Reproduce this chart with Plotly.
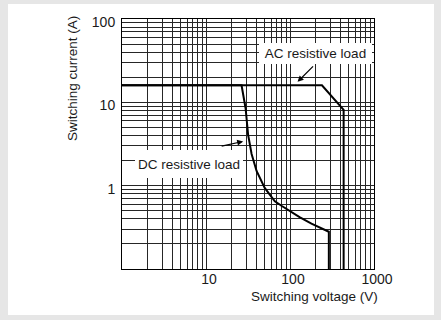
import numpy as np
import plotly.graph_objects as go

# Data
ac_voltage = [1, 240, 435, 435]
ac_current = [16, 16, 8.1, 0.1]

dc_voltage = [1, 26.5, 29.6, 31.7, 34.9, 40, 50, 66, 80, 95, 130, 180, 230, 290, 290]
dc_current = [16, 16, 8.5, 4.1, 2.4, 1.5, 0.94, 0.65, 0.57, 0.51, 0.42, 0.35, 0.31, 0.28, 0.1]

x_tickvals = [1, 10, 100, 1000]
x_ticktext = ["", "10", "100", "1000"]
y_tickvals = [0.1, 1, 10, 100]
y_ticktext = ["", "1", "10", "100"]

FONT = "Liberation Sans"
INK = "#1a1a1a"
GRID = "#262626"

W, H = 441, 320
L, R, T, B = 122, 67, 19, 51
PW, PH = W - L - R, H - T - B

def px(x):
    return (x - L) / PW

def py(y):
    return (H - B - y) / PH

minor_x = [m * 10 ** d for d in range(0, 3) for m in range(2, 10)]
minor_y = [m * 10 ** d for d in range(-1, 2) for m in range(2, 10)]

fig = go.Figure()
fig.add_trace(go.Scatter(x=ac_voltage, y=ac_current, mode="lines",
                         line=dict(color="black", width=2), showlegend=False))
fig.add_trace(go.Scatter(x=dc_voltage, y=dc_current, mode="lines",
                         line=dict(color="black", width=2), showlegend=False))

axis_common = dict(
    type="log", showgrid=True, gridcolor=GRID, gridwidth=1,
    showline=True, linecolor="black", linewidth=1, mirror=True,
    ticks="", zeroline=False,
    tickfont=dict(family=FONT, size=14, color=INK),
)
fig.update_xaxes(range=[0, 3], tickmode="array", tickvals=x_tickvals, ticktext=x_ticktext,
                 minor=dict(tickmode="array", tickvals=minor_x, showgrid=True,
                            gridcolor=GRID, gridwidth=1, ticks=""),
                 ticklabelshift=3, ticklabelstandoff=-3, **axis_common)
fig.update_yaxes(range=[-1, 2], tickmode="array", tickvals=y_tickvals, ticktext=y_ticktext,
                 minor=dict(tickmode="array", tickvals=minor_y, showgrid=True,
                            gridcolor=GRID, gridwidth=1, ticks=""),
                 ticklabelshift=3, ticklabelstandoff=3, **axis_common)

# light gray frame with white inner card
fig.add_shape(type="rect", xref="paper", yref="paper",
              x0=px(8), x1=px(434), y0=py(315), y1=py(4),
              fillcolor="white", line=dict(width=0), layer="below")

annotations = [
    dict(text="Switching voltage (V)", x=px(314), y=py(296), xref="paper", yref="paper",
         showarrow=False, font=dict(family=FONT, size=13.5, color=INK),
         xanchor="center", yanchor="middle"),
    dict(text="Switching current (A)", x=px(72), y=py(79), xref="paper", yref="paper",
         showarrow=False, textangle=-90, font=dict(family=FONT, size=13.5, color=INK),
         xanchor="center", yanchor="middle"),
    dict(text="AC resistive load", x=px(315), y=py(53.8), xref="paper", yref="paper",
         showarrow=False, bgcolor="white", borderpad=0, borderwidth=0,
         width=113, height=21,
         font=dict(family=FONT, size=13.5, color=INK), xanchor="center", yanchor="middle"),
    dict(text="DC resistive load", x=px(189), y=py(164), xref="paper", yref="paper",
         showarrow=False, bgcolor="white", borderpad=0, borderwidth=0,
         width=108, height=28,
         font=dict(family=FONT, size=13.5, color=INK), xanchor="center", yanchor="middle"),
    dict(text="", x=np.log10(123), y=np.log10(17.6), xref="x", yref="y",
         showarrow=True, arrowhead=2, arrowsize=1, arrowwidth=1.2, arrowcolor="black",
         ax=17, ay=-17, axref="pixel", ayref="pixel"),
    dict(text="", x=np.log10(27.7), y=np.log10(3.4), xref="x", yref="y",
         showarrow=True, arrowhead=2, arrowsize=1, arrowwidth=1.2, arrowcolor="black",
         ax=-23, ay=5, axref="pixel", ayref="pixel"),
]

fig.update_layout(
    width=W, height=H,
    margin=dict(l=L, r=R, t=T, b=B),
    paper_bgcolor="#e6e6e6",
    plot_bgcolor="white",
    annotations=annotations,
    font=dict(family=FONT, color=INK),
)

fig.write_html("out.html", config={"displayModeBar": False},
               post_script="document.body.style.margin='0';document.body.style.padding='0';")
